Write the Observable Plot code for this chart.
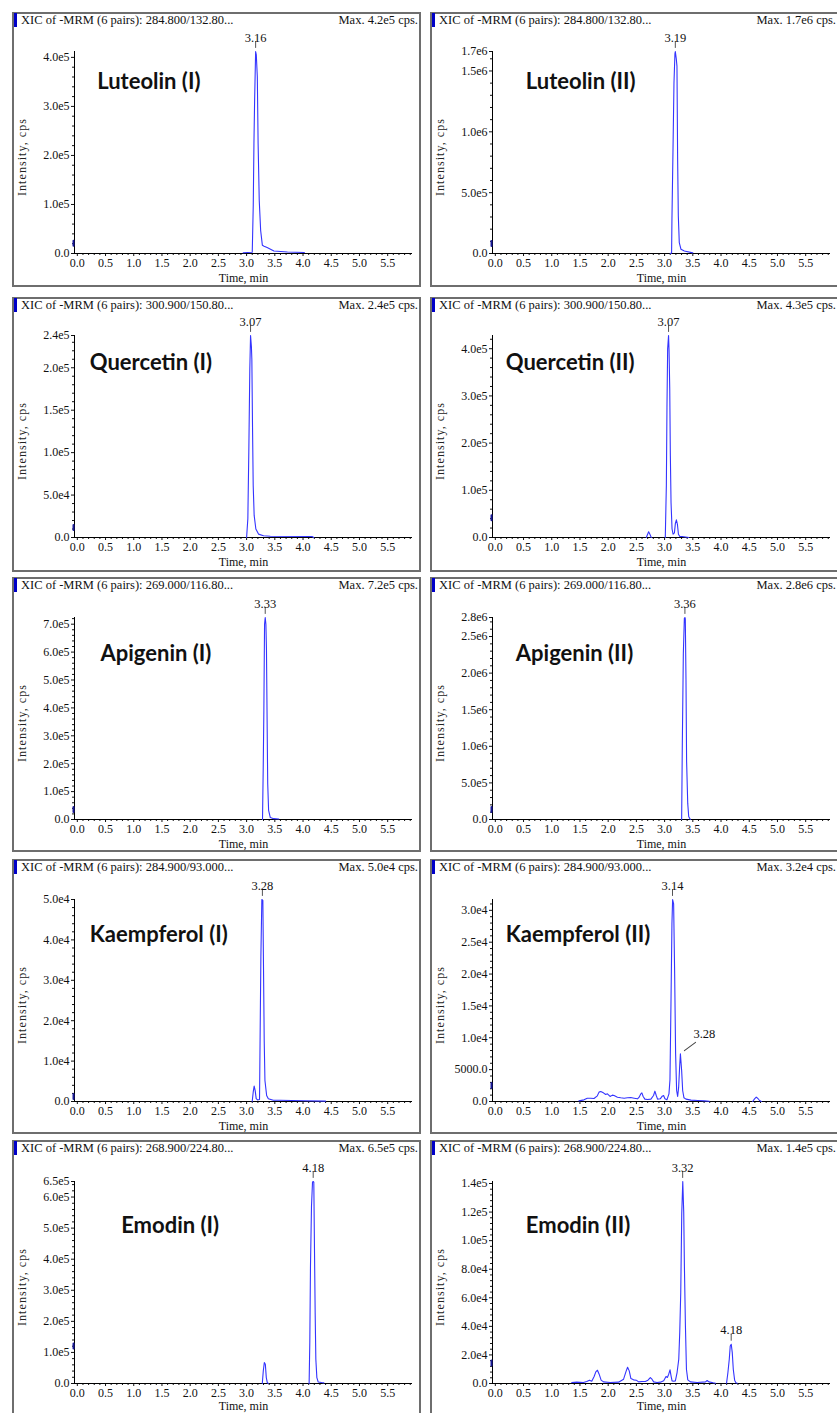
<!DOCTYPE html>
<html><head><meta charset="utf-8">
<script src="https://cdn.jsdelivr.net/npm/d3@7"></script>
<script src="https://cdn.jsdelivr.net/npm/@observablehq/plot@0.6"></script>
<style>
html,body{margin:0;padding:0;background:#fff;}
#page{position:relative;width:837px;height:1413px;overflow:hidden;background:#fff;}
.frame{position:absolute;box-sizing:border-box;width:409px;height:275px;border:2px solid #6e6e6e;}
.hdr{position:absolute;font:12.5px "Liberation Serif",serif;color:#111;white-space:nowrap;line-height:14px;}
.bar{position:absolute;width:3px;height:14px;background:#0000c8;}
</style></head><body><div id="page"></div><script>
// ---------- data ----------
const compounds = ["Luteolin (I)", "Luteolin (II)", "Quercetin (I)", "Quercetin (II)", "Apigenin (I)", "Apigenin (II)", "Kaempferol (I)", "Kaempferol (II)", "Emodin (I)", "Emodin (II)"];
const transitions = ["284.800/132.80...", "284.800/132.80...", "300.900/150.80...", "300.900/150.80...", "269.000/116.80...", "269.000/116.80...", "284.900/93.000...", "284.900/93.000...", "268.900/224.80...", "268.900/224.80..."];
const maxLabels = ["4.2e5", "1.7e6", "2.4e5", "4.3e5", "7.2e5", "2.8e6", "5.0e4", "3.2e4", "6.5e5", "1.4e5"];
const yMax = [412000, 1660000, 238000, 428000, 724000, 2760000, 50000, 31700, 650000, 141400];
const yStep = [1e5, 5e5, 5e4, 1e5, 1e5, 5e5, 1e4, 5000, 1e5, 2e4];
const yTopLabel = [null, "1.7e6", "2.4e5", null, null, "2.8e6", null, null, "6.5e5", null];
const xTickValues = [0, 0.5, 1, 1.5, 2, 2.5, 3, 3.5, 4, 4.5, 5, 5.5];
const peakTimes = [[3.16], [3.19], [3.07], [3.07], [3.33], [3.36], [3.28], [3.14, 3.28], [4.18], [3.32, 4.18]];
const peakHeights = [[412000], [1660000], [238000], [428000], [724000], [2760000], [50000], [31700, 7500], [650000], [141400, 27440]];
const cursorLevels = [21000, 82000, 11800, 42000, 36000, 137000, 1240, 2500, 121000, 14400];

const luteolin1 = [[2.94,1500],[3.10,2500],[3.118,99000],[3.13,224000],[3.142,312000],[3.16,412000],[3.172,405000],[3.19,360000],[3.204,224000],[3.224,108000],[3.249,47000],[3.279,17000],[3.31,15000],[3.364,12000],[3.484,5000],[3.724,3000],[4.024,2000]];
const luteolin2 = [[3.10,0],[3.124,5000],[3.13,280000],[3.148,830000],[3.166,1400000],[3.183,1640000],[3.19,1660000],[3.207,1600000],[3.219,1540000],[3.231,770000],[3.243,310000],[3.26,90000],[3.29,35000],[3.35,20000],[3.50,5000]];
const quercetin1 = [[3.00,0],[3.022,22000],[3.039,100000],[3.057,199000],[3.07,238000],[3.085,225000],[3.093,210000],[3.105,130000],[3.117,61000],[3.134,26000],[3.164,10000],[3.211,4000],[3.30,2000],[3.42,1500],[4.16,1200],[4.19,0]];
const quercetin2 = [[2.676,0],[2.699,7000],[2.717,12000],[2.735,8000],[2.764,0],[2.78,NaN],[3.012,0],[3.031,110000],[3.042,276000],[3.054,400000],[3.07,428000],[3.079,396000],[3.091,315000],[3.102,173000],[3.114,74000],[3.132,18000],[3.15,7000],[3.174,10000],[3.191,30000],[3.209,37500],[3.227,28000],[3.245,7000],[3.27,2000],[3.31,2000],[3.37,1000],[3.43,0]];
const apigenin1 = [[3.282,0],[3.294,177000],[3.306,392000],[3.318,700000],[3.33,724000],[3.342,700000],[3.352,608000],[3.362,386000],[3.374,129000],[3.39,33000],[3.42,7000],[3.48,3000],[3.57,2000]];
const apigenin2 = [[3.302,0],[3.314,1040000],[3.332,2270000],[3.35,2750000],[3.36,2760000],[3.367,2740000],[3.379,1910000],[3.39,790000],[3.41,220000],[3.427,40000],[3.456,0]];
const kaempferol1 = [[3.099,0],[3.117,2300],[3.134,3800],[3.152,2700],[3.17,700],[3.194,400],[3.229,500],[3.241,18400],[3.253,35800],[3.27,50000],[3.288,49800],[3.30,32500],[3.312,15100],[3.325,5200],[3.355,1500],[3.385,700],[3.474,300],[3.59,300],[4.01,200],[4.40,100]];
const kaempferol2 = [[1.482,100],[1.571,260],[1.63,520],[1.69,520],[1.749,470],[1.808,890],[1.838,1470],[1.868,1570],[1.915,1360],[1.956,1100],[1.986,1200],[2.034,790],[2.075,1000],[2.105,940],[2.164,680],[2.223,580],[2.283,520],[2.342,580],[2.401,630],[2.46,520],[2.52,420],[2.549,680],[2.579,1200],[2.597,1360],[2.62,790],[2.65,370],[2.697,310],[2.757,370],[2.804,940],[2.828,1620],[2.852,940],[2.875,370],[2.923,420],[2.958,840],[2.982,940],[3.006,420],[3.041,260],[3.077,1200],[3.095,3400],[3.112,14800],[3.13,27900],[3.142,31700],[3.16,31000],[3.178,20100],[3.195,7500],[3.213,1730],[3.231,790],[3.249,2250],[3.266,5390],[3.28,7500],[3.302,4870],[3.32,1730],[3.343,580],[3.379,370],[3.468,210],[3.587,160],[3.705,100],[3.794,50],[3.80,NaN],[4.56,0],[4.594,420],[4.624,680],[4.654,470],[4.683,160],[4.713,0]];
const emodin1 = [[3.278,0],[3.296,41000],[3.314,67500],[3.332,62000],[3.349,19000],[3.367,3000],[3.385,0],[3.39,NaN],[4.108,0],[4.12,132000],[4.132,378000],[4.15,571000],[4.168,648000],[4.18,650000],[4.191,648000],[4.203,432000],[4.215,228000],[4.227,78000],[4.245,19000],[4.268,5000],[4.328,3000],[4.369,2000]];
const emodin2 = [[1.354,700],[1.443,930],[1.561,700],[1.62,1400],[1.668,2330],[1.709,1630],[1.751,4880],[1.781,8140],[1.81,9300],[1.84,6510],[1.875,2330],[1.917,1160],[2.035,700],[2.184,930],[2.273,3020],[2.314,8140],[2.344,11400],[2.373,8840],[2.403,3490],[2.45,2560],[2.498,2330],[2.539,1160],[2.599,1400],[2.658,1400],[2.705,2330],[2.747,4190],[2.776,3020],[2.806,1160],[2.865,700],[2.925,930],[2.984,1860],[3.025,4880],[3.049,4190],[3.073,6510],[3.096,9530],[3.114,5350],[3.132,1860],[3.162,1630],[3.191,1860],[3.221,7670],[3.251,16980],[3.268,35580],[3.286,63490],[3.304,119300],[3.322,141400],[3.339,119800],[3.351,82090],[3.369,40230],[3.387,10000],[3.411,2560],[3.458,1160],[3.577,700],[3.725,1160],[3.754,2090],[3.784,1160],[3.861,470],[3.903,230],[3.91,NaN],[4.098,230],[4.122,7670],[4.146,16980],[4.163,26280],[4.181,27440],[4.199,21630],[4.217,10000],[4.241,2330],[4.264,470],[4.288,230]];
const traces = [luteolin1, luteolin2, quercetin1, quercetin2, apigenin1, apigenin2, kaempferol1, kaempferol2, emodin1, emodin2];

// ---------- layout (positions, not data) ----------
const colLeft = [12, 430];
const frameTop = [12, 297, 577, 859, 1140];
const svgTop = [11, 295, 577, 859, 1141];
const timeLabelDy = [25, 25, 25, 25, 22.5];
const nameOffset = [[84.7,77.3],[95.3,77],[77.3,74.3],[75.3,74],[88,83],[85.3,83],[77.3,82.7],[75.3,82.7],[108.7,91.3],[95.3,91]];
const peakLabelStyle = [["tick"],["tick"],["tick"],["tick"],["tick"],["tick"],["tick"],["tick","leader"],["tick"],["tick","tick"]];
const xDomain = [-0.05, 5.94];
const W = 409, H = 275, mL = 62, mR = 9, mT = 40, mB = 33;
const serif = "Liberation Serif, Times New Roman, serif";
const traceColor = "#3434ff";

const fmt = v => v === 0 ? "0.0" : (v < 1e4 ? v.toFixed(1) : v.toExponential(1).replace("e+", "e"));
const page = document.getElementById("page");

function el(cls, css, text) {
  const d = document.createElement("div");
  d.className = cls;
  Object.assign(d.style, css);
  if (text != null) d.textContent = text;
  page.appendChild(d);
  return d;
}

compounds.forEach((name, i) => {
  const col = i % 2, row = Math.floor(i / 2);
  const L = colLeft[col], T = frameTop[row], S = svgTop[row];
  el("frame", {left: L + "px", top: T + "px"});

  const ymax = yMax[i];
  const major = d3.range(0, ymax * 1.0001, yStep[i]);
  if (yTopLabel[i]) major.push(ymax);
  const minor = d3.range(0, ymax, yStep[i] / 5).filter(v => !major.some(m => Math.abs(m - v) < yStep[i] / 10));
  const xMinor = d3.range(0, 5.95, 0.1).filter(v => Math.abs(v * 2 - Math.round(v * 2)) > 1e-6);
  const peaks = peakTimes[i].map((t, k) => ({t, v: peakHeights[i][k], label: t.toFixed(2), style: peakLabelStyle[i][k]}));
  const tickPeaks = peaks.filter(p => p.style === "tick");
  const leaderPeaks = peaks.filter(p => p.style === "leader");
  const tf = v => (yTopLabel[i] && v === ymax) ? yTopLabel[i] : fmt(v);

  const svg = Plot.plot({
    width: W, height: H, marginLeft: mL, marginRight: mR, marginTop: mT, marginBottom: mB,
    x: {domain: xDomain},
    y: {domain: [0, ymax]},
    style: {position: "absolute", left: L + "px", top: S + "px", background: "transparent", overflow: "visible", maxWidth: "none", fontFamily: serif, fontSize: "12px", color: "#111"},
    marks: [
      Plot.axisX({ticks: xTickValues, tickSize: 3, tickPadding: 2, tickFormat: d => d.toFixed(1), label: null, fontSize: 12}),
      Plot.axisX({ticks: xMinor, tickSize: 2, tickFormat: () => "", label: null}),
      Plot.axisY({ticks: major, tickSize: 3, tickPadding: 2, tickFormat: tf, label: null, fontSize: 12}),
      Plot.axisY({ticks: minor, tickSize: 2, tickFormat: () => "", label: null}),
      Plot.ruleY([0], {stroke: "#000"}),
      Plot.ruleX([xDomain[0]], {stroke: "#000"}),
      Plot.vector([cursorLevels[i]], {x: xDomain[0], y: d => d, length: 5, rotate: 0, anchor: "middle", dx: -1, stroke: "#1a1a9a", strokeWidth: 2, r: 0}),
      Plot.line(traces[i], {x: d => d[0], y: d => d[1], stroke: traceColor, strokeWidth: 1.1}),
      Plot.vector(tickPeaks, {x: "t", y: "v", length: 6, rotate: 0, anchor: "start", dy: -4, stroke: "#555", strokeWidth: 1, r: 0}),
      Plot.text(tickPeaks, {x: "t", y: "v", text: "label", dy: -14, fontSize: 12.5, fill: "#111"}),
      Plot.vector(leaderPeaks, {x: "t", y: "v", length: 14, rotate: 53, anchor: "start", dx: 4, dy: -3, stroke: "#444", strokeWidth: 1, r: 0}),
      Plot.text(leaderPeaks, {x: "t", y: "v", text: "label", dx: 24, dy: -20, fontSize: 12.5, fill: "#111"}),
      Plot.text([name], {frameAnchor: "top-left", textAnchor: "start", lineAnchor: "bottom", dx: nameOffset[i][0] - mL, dy: nameOffset[i][1] - mT, fontSize: 22, fontWeight: "bold", fontFamily: "Lato", fill: "#111"}),
      Plot.text(["Time, min"], {frameAnchor: "bottom", textAnchor: "middle", lineAnchor: "middle", dy: timeLabelDy[row], fontSize: 12, fill: "#111"}),
      Plot.text(["Intensity, cps"], {frameAnchor: "left", textAnchor: "middle", lineAnchor: "middle", rotate: -90, dx: -52, dy: 5, fontSize: 12, fill: "#222"})
    ]
  });
  svg.querySelectorAll("text").forEach(t => {
    if (t.textContent === "Intensity, cps") { t.setAttribute("textLength", "77"); t.setAttribute("lengthAdjust", "spacing"); }
  });
  page.appendChild(svg);

  el("bar", {left: (L + 2) + "px", top: (T + 1) + "px"});
  el("hdr", {left: (L + 9) + "px", top: (T + 1) + "px"}, "XIC of -MRM (6 pairs): " + transitions[i]);
  el("hdr", {left: L + "px", top: (T + 1) + "px", width: "406px", textAlign: "right"}, "Max. " + maxLabels[i] + " cps.");
});
</script></body></html>
